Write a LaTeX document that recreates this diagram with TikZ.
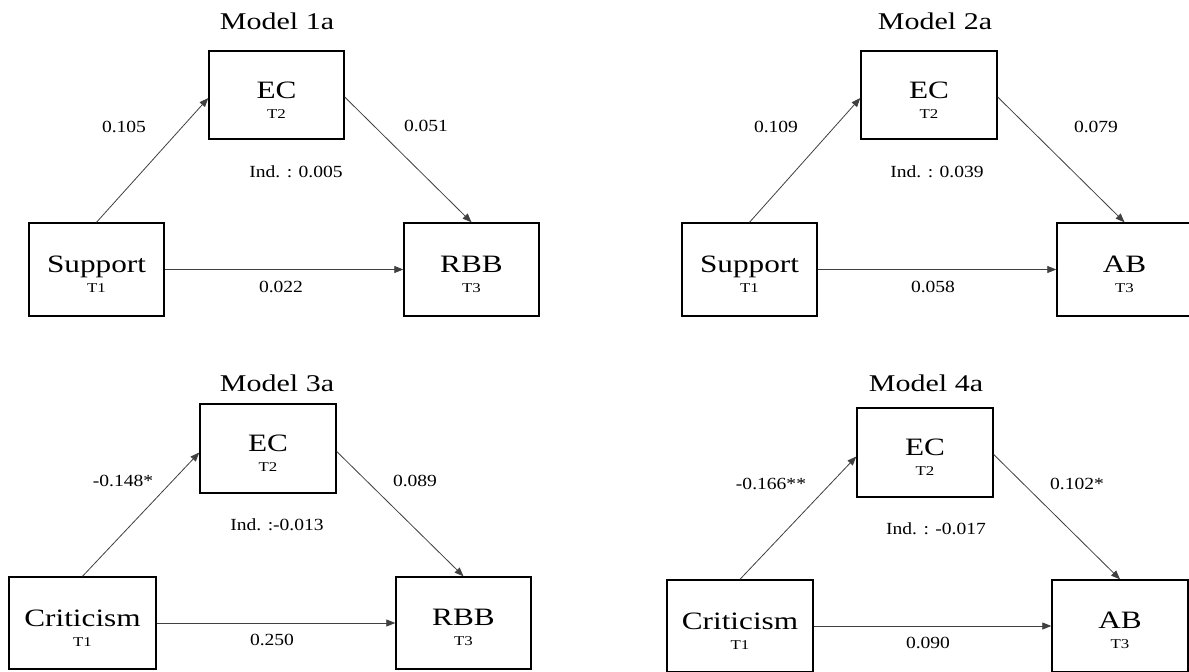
\documentclass[tikz,border=0pt]{standalone}
\usepackage{fontspec}
\setmainfont{Liberation Serif}[FakeStretch=1.25]
\newfontfamily\lblfont{Liberation Serif}[FakeStretch=1.15]
\usetikzlibrary{arrows.meta}
\newcommand{\mn}[1]{\rule{0pt}{26pt}#1}
\newcommand{\tm}[1]{{\fontsize{13.5}{16}\selectfont #1}}
\tikzset{
  box/.style={draw=black, line width=1.4pt, minimum width=135pt, minimum height=93pt,
    inner sep=0pt, align=center, font=\fontsize{25}{20}\selectfont},
  ttl/.style={font=\fontsize{24}{28}\selectfont},
  coef/.style={font=\lblfont\fontsize{17}{20}\selectfont},
  conn/.style={draw=black!75, line width=0.8pt, -{Triangle[length=9pt,width=7pt]}},
}
\begin{document}
\begin{tikzpicture}[x=1pt,y=-1pt]
\fill[white] (0,0) rectangle (1189,672);
\useasboundingbox (0,0) rectangle (1189,672);

% ---------- Model 1a ----------
\node[ttl] (t1) at (277,21) {Model 1a};
\node[box, minimum height=88pt] (ec1) at (276.5,95) {\mn{EC}\\\tm{T2}};
\node[box] (s1) at (96.5,269.5) {\mn{Support}\\\tm{T1}};
\node[box] (r1) at (471.5,269.5) {\mn{RBB}\\\tm{T3}};
\draw[conn] (s1.north) -- ([yshift=-3pt]ec1.west);
\draw[conn] ([yshift=-2pt]ec1.east) -- (r1.north);
\draw[conn] (s1.east) -- (r1.west);
\node[coef] (l1a) at (124,127) {0.105};
\node[coef] (l1b) at (426,126) {0.051};
\node[coef] (l1c) at (296,172) {Ind. : 0.005};
\node[coef] (l1d) at (281,287) {0.022};

% ---------- Model 2a ----------
\node[ttl] (t2) at (935,21) {Model 2a};
\node[box, minimum width=136pt, minimum height=88pt] (ec2) at (929,95) {\mn{EC}\\\tm{T2}};
\node[box] (s2) at (749.5,269.5) {\mn{Support}\\\tm{T1}};
\node[box] (a2) at (1124.5,269.5) {\mn{AB}\\\tm{T3}};
\draw[conn] (s2.north) -- ([yshift=-3pt]ec2.west);
\draw[conn] ([yshift=-2pt]ec2.east) -- (a2.north);
\draw[conn] (s2.east) -- (a2.west);
\node[coef] (l2a) at (776,127) {0.109};
\node[coef] (l2b) at (1096,127) {0.079};
\node[coef] (l2c) at (937,172) {Ind. : 0.039};
\node[coef] (l2d) at (933,287) {0.058};

% ---------- Model 3a ----------
\node[ttl] (t3) at (277,383) {Model 3a};
\node[box, minimum width=136pt, minimum height=89pt] (ec3) at (268,448.5) {\mn{EC}\\\tm{T2}};
\node[box, minimum width=147pt, minimum height=92pt] (c3) at (82.5,623) {\mn{Criticism}\\\tm{T1}};
\node[box, minimum height=92pt] (r3) at (463.5,623) {\mn{RBB}\\\tm{T3}};
\draw[conn] (c3.north) -- ([yshift=-4pt]ec3.west);
\draw[conn] ([yshift=-3pt]ec3.east) -- (r3.north);
\draw[conn] (c3.east) -- (r3.west);
\node[coef] (l3a) at (123,481) {-0.148*};
\node[coef] (l3b) at (415,481) {0.089};
\node[coef] (l3c) at (277,525) {Ind. :-0.013};
\node[coef] (l3d) at (272,640) {0.250};

% ---------- Model 4a ----------
\node[ttl] (t4) at (926,383) {Model 4a};
\node[box, minimum width=136pt, minimum height=89pt] (ec4) at (925,452.5) {\mn{EC}\\\tm{T2}};
\node[box, minimum width=146pt, minimum height=92pt] (c4) at (740,626) {\mn{Criticism}\\\tm{T1}};
\node[box, minimum width=136pt, minimum height=92pt] (a4) at (1120,626) {\mn{AB}\\\tm{T3}};
\draw[conn] (c4.north) -- ([yshift=-4pt]ec4.west);
\draw[conn] ([yshift=-2pt]ec4.east) -- (a4.north);
\draw[conn] (c4.east) -- (a4.west);
\node[coef] (l4a) at (771,484) {-0.166**};
\node[coef] (l4b) at (1077,484) {0.102*};
\node[coef] (l4c) at (936,529) {Ind. : -0.017};
\node[coef] (l4d) at (928,643) {0.090};
\end{tikzpicture}
\end{document}
